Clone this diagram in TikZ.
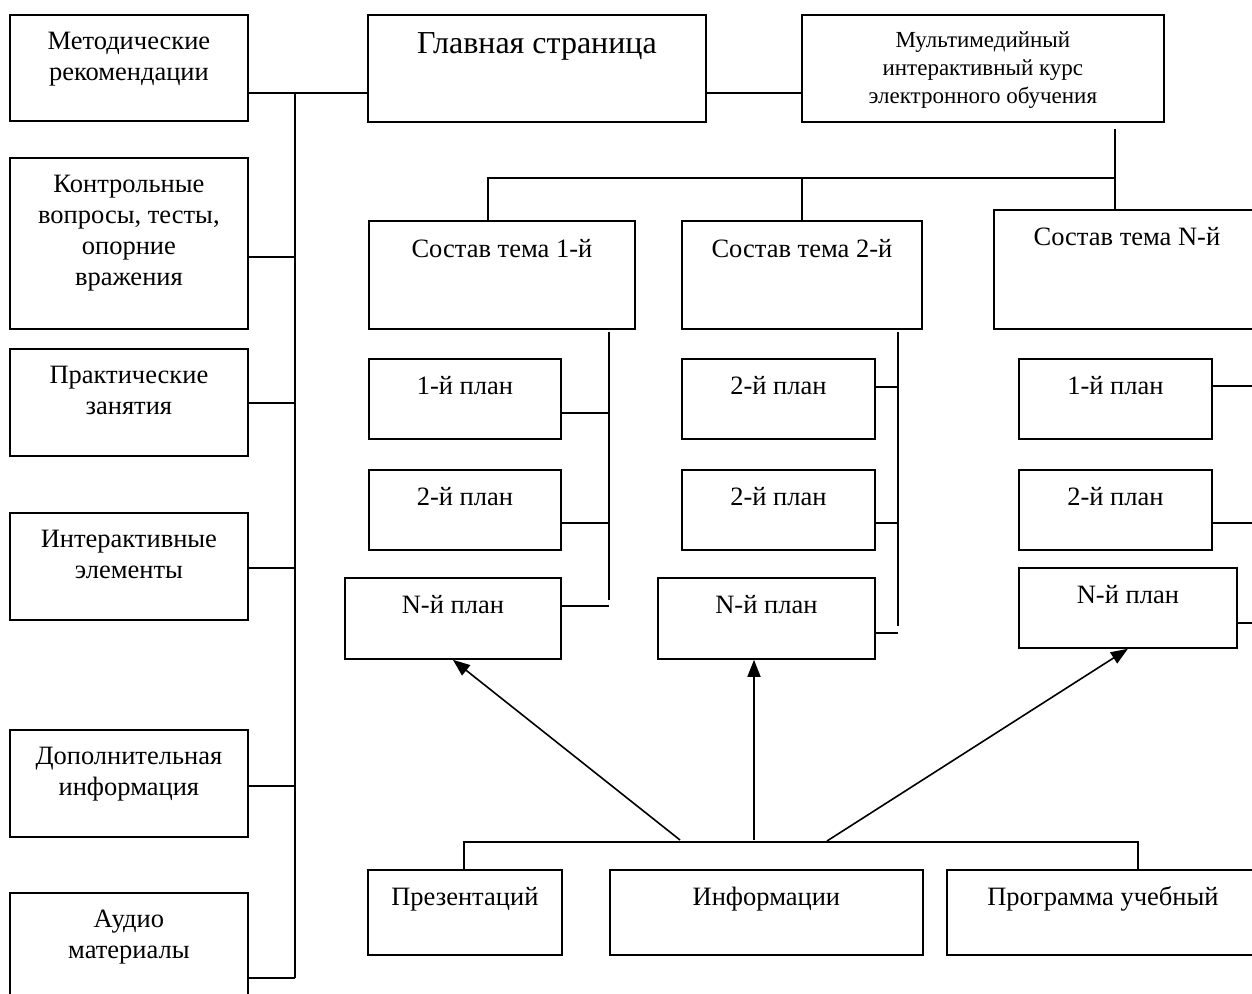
\documentclass[tikz,border=0pt]{standalone}
\usepackage{fontspec}
\setmainfont{Liberation Serif}
\usetikzlibrary{arrows.meta}
\newlength{\px}\setlength{\px}{0.5pt}
\newcommand{\boxtxt}[4]{\parbox[c][#2\px][t]{#1\px}{\centering\rule{0pt}{#3\px}#4}}
\tikzset{blk/.style={draw=black,line width=0.9pt,inner sep=0pt,anchor=north west,
    font=\fontsize{13.25}{15.5}\selectfont},
  link/.style={line width=0.9pt},
  pointer/.style={-{Triangle[length=8.5pt,width=6.5pt]},line width=0.8pt}}

\begin{document}
\begin{tikzpicture}[x=0.5pt,y=-0.5pt]
  \useasboundingbox (0,0) rectangle (1252,994);
  \clip (0,0) rectangle (1252,994);
  % left column
  \node[blk] (mr) at (9,14) {\boxtxt{238}{106}{35}{Методические\\рекомендации}};
  \node[blk] (kv) at (9,157) {\boxtxt{238}{171}{35}{Контрольные\\вопросы, тесты,\\опорние\\вражения}};
  \node[blk] (pz) at (9,348) {\boxtxt{238}{107}{35}{Практические\\занятия}};
  \node[blk] (ie) at (9,512) {\boxtxt{238}{107}{35}{Интерактивные\\элементы}};
  \node[blk] (di) at (9,729) {\boxtxt{238}{107}{35}{Дополнительная\\информация}};
  \node[blk] (am) at (9,892) {\boxtxt{238}{120}{35}{Аудио\\материалы}};
  % top row
  \node[blk,font=\fontsize{16}{19}\selectfont] (gs) at (367,14) {\boxtxt{338}{107}{39}{Главная страница}};
  \node[blk,font=\fontsize{11.5}{14}\selectfont] (mk) at (801,14)
    {\boxtxt{362}{107}{33}{Мультимедийный\\интерактивный курс\\электронного обучения}};
  % topics
  \node[blk] (t1) at (368,220) {\boxtxt{266}{108}{37}{Состав тема 1-й}};
  \node[blk] (t2) at (681,220) {\boxtxt{240}{108}{37}{Состав тема 2-й}};
  \node[blk] (tN) at (993,209) {\boxtxt{266}{119}{36}{Состав тема N-й}};
  % plans
  \node[blk] (p11) at (368,358) {\boxtxt{192}{80}{36}{1-й план}};
  \node[blk] (p12) at (368,469) {\boxtxt{192}{80}{36}{2-й план}};
  \node[blk] (p1N) at (344,577) {\boxtxt{216}{81}{36}{N-й план}};
  \node[blk] (p21) at (681,358) {\boxtxt{193}{80}{36}{2-й план}};
  \node[blk] (p22) at (681,469) {\boxtxt{193}{80}{36}{2-й план}};
  \node[blk] (p2N) at (657,577) {\boxtxt{217}{81}{36}{N-й план}};
  \node[blk] (p31) at (1018,358) {\boxtxt{193}{80}{36}{1-й план}};
  \node[blk] (p32) at (1018,469) {\boxtxt{193}{80}{36}{2-й план}};
  \node[blk] (p3N) at (1018,567) {\boxtxt{218}{80}{36}{N-й план}};
  % sources
  \node[blk] (b1) at (367,869) {\boxtxt{194}{85}{36}{Презентаций}};
  \node[blk] (b2) at (609,869) {\boxtxt{313}{85}{36}{Информации}};
  \node[blk] (b3) at (946,869) {\boxtxt{312}{85}{36}{Программа учебный}};

  % left bus
  \coordinate (lt) at (295,93);
  \coordinate (lb) at (295,978);
  \draw[link] (lt) -- (lb);
  \draw[link] (mr.east |- lt) -- (gs.west |- lt);
  \draw[link] (gs.east |- lt) -- (mk.west |- lt);
  \foreach \n/\y in {kv/257,pz/403,ie/568,di/786,am/978}
    \draw[link] (\n.east |- 0,\y) -- (lt |- 0,\y);
  % topic tree
  \coordinate (hub) at (1115,178);
  \coordinate (mkfoot) at (1115,129);
  \draw[link] (mkfoot) -- (tN.north -| hub);
  \draw[link] (t1.north -| 488,0) |- (hub);
  \draw[link] (t2.north) -- (t2.north |- hub);
  % plan risers
  \coordinate (v1) at (609,332);
  \coordinate (v2) at (898,332);
  \coordinate (v3) at (1256,386);
  \draw[link] (v1) -- (609,600);
  \draw[link] (v2) -- (898,626);
  \foreach \n/\y in {p11/413,p12/523,p1N/606}
    \draw[link] (\n.east |- 0,\y) -- (v1 |- 0,\y);
  \foreach \n/\y in {p21/387,p22/523,p2N/633}
    \draw[link] (\n.east |- 0,\y) -- (v2 |- 0,\y);
  \foreach \n/\y in {p31/386,p32/523,p3N/623}
    \draw[link] (\n.east |- 0,\y) -- (v3 |- 0,\y);
  % bottom bus and arrows
  \coordinate (bl) at (464,842);
  \coordinate (br) at (1138,842);
  \draw[link] (b1.north -| bl) -- (bl) -- (br) -- (b3.north -| br);
  \coordinate (a1) at (680,840);
  \coordinate (a2) at (754,840);
  \coordinate (a3) at (827,841);
  \draw[pointer] (a1) -- (p1N.south);
  \draw[pointer] (a2) -- (p2N.south -| a2);
  \draw[pointer] (a3) -- (p3N.south);
\end{tikzpicture}
\end{document}
